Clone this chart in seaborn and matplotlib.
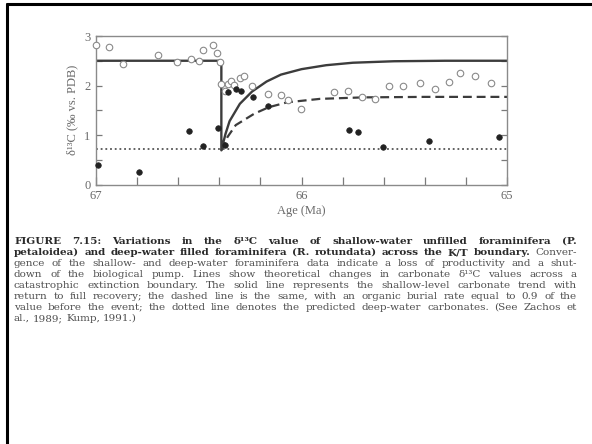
import matplotlib
matplotlib.use("Agg")
import matplotlib.pyplot as plt
from matplotlib.lines import Line2D
import numpy as np
import pandas as pd
import seaborn as sns

# ---- data ----
shallow_age = [67.00, 66.935, 66.867, 66.70, 66.604, 66.539, 66.50, 66.477, 66.433, 66.409,
               66.396, 66.391, 66.37, 66.356, 66.344, 66.33, 66.297, 66.278, 66.24, 66.162,
               66.10, 66.067, 66.002, 65.841, 65.776, 65.706, 65.641, 65.576, 65.508, 65.422,
               65.349, 65.284, 65.227, 65.157, 65.078]
shallow_d13c = [2.81, 2.77, 2.44, 2.61, 2.47, 2.53, 2.50, 2.71, 2.82, 2.66,
                2.48, 2.03, 1.89, 2.03, 2.09, 2.02, 2.15, 2.19, 1.99, 1.82,
                1.81, 1.70, 1.52, 1.87, 1.89, 1.76, 1.73, 1.99, 1.99, 2.05,
                1.93, 2.07, 2.26, 2.19, 2.06]

deep_age = [66.99, 66.79, 66.547, 66.48, 66.406, 66.37, 66.356, 66.318, 66.295, 66.237,
            66.162, 65.771, 65.726, 65.601, 65.378, 65.037]
deep_d13c = [0.40, 0.26, 1.08, 0.77, 1.14, 0.80, 1.86, 1.93, 1.89, 1.77,
             1.58, 1.10, 1.06, 0.75, 0.87, 0.96]

solid_age = [67.0, 66.39, 66.39, 66.37, 66.35, 66.30, 66.24, 66.17, 66.10, 66.00,
             65.88, 65.75, 65.55, 65.30, 65.0]
solid_d13c = [2.50, 2.50, 0.69, 1.02, 1.28, 1.63, 1.88, 2.08, 2.22, 2.33,
              2.41, 2.46, 2.49, 2.50, 2.50]

dashed_age = [66.39, 66.36, 66.32, 66.23, 66.16, 66.07, 65.91, 65.70, 65.40, 65.0]
dashed_d13c = [0.69, 0.96, 1.20, 1.43, 1.56, 1.66, 1.73, 1.76, 1.77, 1.77]

dotted_age = [67.0, 65.0]
dotted_d13c = [0.71, 0.71]

x_major = [67, 66, 65]
y_major = [0, 1, 2, 3]

caption_lines = [
    [("FIGURE 7.15: Variations in the δ¹³C value of shallow-water unfilled foraminifera (P.", "bold")],
    [("petaloidea) and deep-water filled foraminifera (R. rotundata) across the K/T boundary.", "bold"),
     ("Conver-", "normal")],
    [("gence of the shallow- and deep-water foraminifera data indicate a loss of productivity and a shut-", "normal")],
    [("down of the biological pump. Lines show theoretical changes in carbonate δ¹³C values across a", "normal")],
    [("catastrophic extinction boundary. The solid line represents the shallow-level carbonate trend with", "normal")],
    [("return to full recovery; the dashed line is the same, with an organic burial rate equal to 0.9 of the", "normal")],
    [("value before the event; the dotted line denotes the predicted deep-water carbonates. (See Zachos et", "normal")],
    [("al., 1989; Kump, 1991.)", "normal")],
]

# ---- figure ----
sns.set_style("white")
plt.rcParams["font.family"] = ["Liberation Serif", "DejaVu Serif"]
W, H = 592, 444
fig = plt.figure(figsize=(W / 100, H / 100), dpi=100)
fig.patch.set_facecolor("white")

ax_l, ax_r, ax_t, ax_b = 96, 507, 36, 184.5
ax = fig.add_axes([ax_l / W, 1 - ax_b / H, (ax_r - ax_l) / W, (ax_b - ax_t) / H])

line_col = "#3c3c3c"
sns.lineplot(x=dotted_age, y=dotted_d13c, ax=ax, color="#555555", lw=1.3,
             linestyle=(0, (1, 1.6)), sort=False, estimator=None)
sns.lineplot(x=solid_age, y=solid_d13c, ax=ax, color=line_col, lw=1.7,
             sort=False, estimator=None)
sns.lineplot(x=dashed_age, y=dashed_d13c, ax=ax, color=line_col, lw=1.6,
             linestyle=(0, (4.0, 2.2)), sort=False, estimator=None)

sns.scatterplot(x=shallow_age, y=shallow_d13c, ax=ax, s=22, facecolor="white",
                edgecolor="#8a8a8a", linewidth=0.8, zorder=3, clip_on=False)
sns.scatterplot(x=deep_age, y=deep_d13c, ax=ax, s=16, color="#222222",
                edgecolor="#222222", linewidth=0.5, zorder=4, clip_on=False)

ax.set_xlim(67, 65)
ax.set_ylim(0, 3)
ax.set_xticks(x_major)
ax.set_xticklabels([str(v) for v in x_major])
ax.set_xticks(np.arange(65.2, 67.0, 0.2), minor=True)
ax.set_yticks(y_major)
ax.set_yticklabels([str(v) for v in y_major])
ax.set_yticks([0.5, 1.5, 2.5], minor=True)

tick_col = "#7a7a7a"
ax.tick_params(axis="x", which="both", direction="in", length=6, width=0.9,
               color=tick_col, labelcolor="#6a6a6a", labelsize=9, pad=4,
               bottom=True, top=False)
ax.tick_params(axis="y", which="both", direction="in", length=4, width=0.9,
               color=tick_col, labelcolor="#6a6a6a", labelsize=9, pad=4,
               left=True, right=True)
for s in ax.spines.values():
    s.set_color("#8a8a8a")
    s.set_linewidth(1.0)

ax.set_xlabel("Age (Ma)", fontsize=9, color="#6a6a6a", labelpad=2)
ax.set_ylabel("δ¹³C (‰ vs. PDB)", fontsize=9, color="#6a6a6a", labelpad=4)

# ---- page border (scan frame) ----
fig.add_artist(Line2D([7 / W, 1.0], [1 - 4 / H, 1 - 4 / H], transform=fig.transFigure,
                      color="black", lw=2.2))
fig.add_artist(Line2D([7 / W, 7 / W], [1 - 4 / H, 0.0], transform=fig.transFigure,
                      color="black", lw=2.2))

# ---- justified caption ----
fig.canvas.draw()
renderer = fig.canvas.get_renderer()
x0, x1 = 14, 577
baselines = [244, 255, 266, 277, 288, 299, 310, 321]
cap_family = ["DejaVu Serif"]

probe_fs = 10.0
widest = 0
for segs in caption_lines[:-1]:
    total = 0
    for text, wt in segs:
        tt = fig.text(0, 0, text + " ", fontsize=probe_fs, fontweight=wt, family=cap_family)
        total += tt.get_window_extent(renderer).width
        tt.remove()
    widest = max(widest, total)
fs = min(probe_fs * (x1 - x0) / widest * 0.99, 8.3)

for i, (segs, yb) in enumerate(zip(caption_lines, baselines)):
    words = []
    for text, wt in segs:
        for w in text.split(" "):
            words.append((w, wt))
    texts = []
    for w, wt in words:
        t = fig.text(0, 1 - yb / H, w, fontsize=fs, fontweight=wt, family=cap_family,
                     color="#2a2a2a" if wt == "bold" else "#505050",
                     va="baseline", ha="left")
        texts.append(t)
    widths = [t.get_window_extent(renderer).width for t in texts]
    last = i == len(caption_lines) - 1
    if last or len(texts) == 1:
        gap = fs * 100 / 72 * 0.3
    else:
        gap = (x1 - x0 - sum(widths)) / (len(texts) - 1)
    x = x0
    for t, w in zip(texts, widths):
        t.set_x(x / W)
        x += w + gap

fig.savefig("out.png", dpi=100, facecolor="white")
